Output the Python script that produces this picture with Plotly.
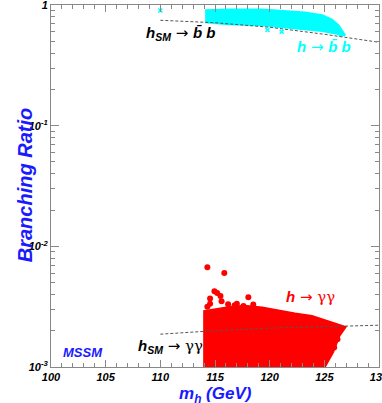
import plotly.graph_objects as go

# --- data ---
# SM reference curves (dashed)
sm_mass = [110, 115, 120, 125, 130]
sm_bb = [0.747, 0.713, 0.654, 0.572, 0.491]
sm_gg = [1.87e-3, 2.00e-3, 2.10e-3, 2.17e-3, 2.22e-3]

# MSSM h -> b b scan region (outline of dense cloud)
bb_cloud_m = [114.1, 116.2, 119.3, 121.7, 123.2, 124.8, 125.7, 126.3, 126.75, 126.9,
              124.8, 122.3, 119.3, 116.2, 114.1]
bb_cloud_br = [0.904, 0.916, 0.916, 0.892, 0.865, 0.822, 0.757, 0.679, 0.598, 0.561,
               0.609, 0.638, 0.679, 0.692, 0.719]
bb_extra_m = [110.0, 119.8, 121.1, 126.5]
bb_extra_br = [0.90, 0.62, 0.60, 0.57]

# MSSM h -> gamma gamma scan region (outline of dense cloud)
gg_cloud_m = [114.1, 114.1, 116.2, 117.7, 119.3, 120.8, 122.3, 123.85, 125.3, 126.6, 126.8,
              126.3, 125.7, 124.8, 114.1]
gg_cloud_br = [0.95e-3, 2.86e-3, 3.07e-3, 3.15e-3, 3.05e-3, 2.86e-3, 2.72e-3, 2.60e-3,
               2.36e-3, 2.15e-3, 2.12e-3, 1.83e-3, 1.33e-3, 0.95e-3, 0.95e-3]
gg_extra_m = [114.3, 115.85, 114.95, 115.2, 114.55, 115.5, 115.6, 118.05, 114.55, 116.2,
              117.0, 117.6, 114.3, 116.8, 118.5, 126.2, 125.9, 124.5]
gg_extra_br = [6.7e-3, 6.0e-3, 4.25e-3, 4.1e-3, 3.70e-3, 3.88e-3, 3.5e-3, 3.79e-3, 3.35e-3,
               3.31e-3, 3.35e-3, 3.2e-3, 3.15e-3, 3.25e-3, 3.3e-3, 1.7e-3, 1.45e-3, 1.1e-3]

y_tickvals = [1e-3, 1e-2, 1e-1, 1]
y_ticktext = ["10<sup>-3</sup>", "10<sup>-2</sup>", "10<sup>-1</sup>", "1"]
x_tickvals = [100, 105, 110, 115, 120, 125, 130]

RED = "#ff0000"
CYAN = "#00ffff"
BLUE = "#1a1aff"

fig = go.Figure()
fig.add_trace(go.Scatter(x=gg_cloud_m, y=gg_cloud_br, mode="lines", fill="toself",
                         fillcolor=RED, line=dict(color=RED, width=4), hoverinfo="skip"))
fig.add_trace(go.Scatter(x=gg_extra_m, y=gg_extra_br, mode="markers",
                         marker=dict(color=RED, size=6)))
fig.add_trace(go.Scatter(x=bb_cloud_m, y=bb_cloud_br, mode="lines", fill="toself",
                         fillcolor=CYAN, line=dict(color=CYAN, width=2), hoverinfo="skip"))
fig.add_trace(go.Scatter(x=bb_extra_m, y=bb_extra_br, mode="markers",
                         marker=dict(color=CYAN, size=4, symbol="x-thin",
                                     line=dict(color=CYAN, width=1.5))))
fig.add_trace(go.Scatter(x=sm_mass, y=sm_bb, mode="lines",
                         line=dict(color="#555555", width=1, dash="3px,2px")))
fig.add_trace(go.Scatter(x=sm_mass, y=sm_gg, mode="lines",
                         line=dict(color="#555555", width=1, dash="3px,2px")))

tickfont = dict(family="Liberation Sans", size=11, color="black", weight="bold", style="italic")
axis_common = dict(showline=True, linecolor="#888888", linewidth=1, mirror="allticks",
                   ticks="inside", tickcolor="#888888", showgrid=False, zeroline=False,
                   tickfont=tickfont, automargin=False, ticklabeloverflow="allow")

fig.update_xaxes(range=[100, 130], tickvals=x_tickvals, ticklen=7,
                 minor=dict(ticks="inside", ticklen=4, dtick=1, tickcolor="#888888"),
                 **axis_common)
fig.update_yaxes(type="log", range=[-3, 0], tickvals=y_tickvals, ticktext=y_ticktext,
                 ticklen=8,
                 minor=dict(ticks="inside", ticklen=4, tickcolor="#888888",
                            tickvals=[m * 10 ** e for e in (-3, -2, -1) for m in range(2, 10)]),
                 **axis_common)

ARROW = '<span style="font-family:DejaVu Sans;font-weight:normal;font-style:normal"> → </span>'
GG = '<span style="font-family:DejaVu Serif;font-style:normal;font-weight:normal">γγ</span>'

lab = dict(family="Liberation Sans", size=15, weight="bold", style="italic")
annotations = [
    dict(x=111.9, y=-0.234, text="h<sub>SM</sub>" + ARROW + "b̄ b", font=dict(lab, color="black")),
    dict(x=125.0, y=-0.350, text="h" + ARROW + "b̄ b", font=dict(lab, color=CYAN)),
    dict(x=123.7, y=-2.423, text="h" + ARROW + GG, font=dict(lab, color=RED)),
    dict(x=110.9, y=-2.828, text="h<sub>SM</sub>" + ARROW + GG, font=dict(lab, color="black")),
    dict(x=102.9, y=-2.877, text="MSSM", font=dict(lab, size=13, color=BLUE)),
]
for a in annotations:
    a.update(xref="x", yref="y", showarrow=False)
annotations.append(dict(xref="paper", yref="paper", x=-0.119, y=0.502, showarrow=False,
                        text="Branching Ratio", textangle=-90,
                        font=dict(family="Liberation Sans", size=20, weight="bold",
                                  style="italic", color=BLUE)))
annotations.append(dict(xref="paper", yref="paper", x=0.5, y=-0.076, showarrow=False,
                        text="m<sub>h</sub> (GeV)", yanchor="middle",
                        font=dict(family="Liberation Sans", size=17, weight="bold",
                                  style="italic", color=BLUE)))

fig.update_layout(width=382, height=403, showlegend=False,
                  margin=dict(l=51, r=3, t=5, b=36),
                  paper_bgcolor="white", plot_bgcolor="white",
                  annotations=annotations)
fig.write_html("out.html", config={"displayModeBar": False},
               post_script="document.body.style.margin='0';")
